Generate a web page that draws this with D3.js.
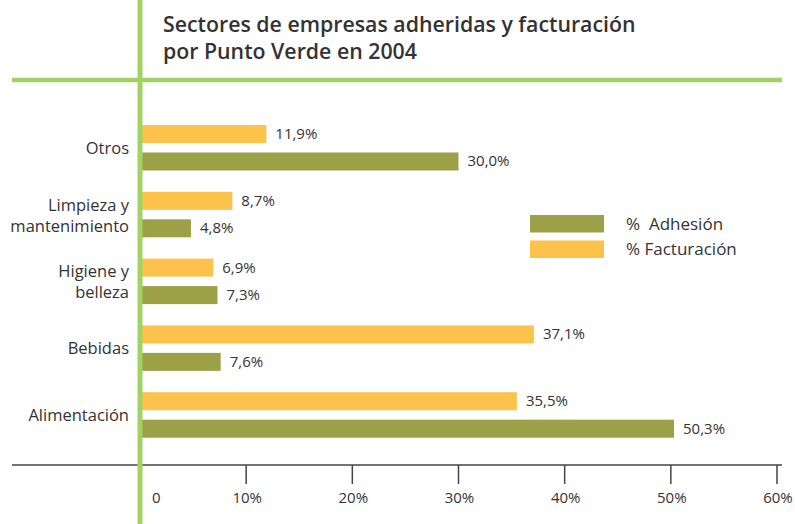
<!DOCTYPE html>
<html>
<head>
<meta charset="utf-8">
<script src="https://cdn.jsdelivr.net/npm/d3@7"></script>
<style>
    body { margin: 0; background: #fff; }
    svg text { font-family: "Open Sans", "Noto Sans", sans-serif; fill: #333; }
</style>
</head>
<body>
<svg width="795" height="524"></svg>
<script>
const categories = ['Otros', 'Limpieza y\nmantenimiento', 'Higiene y\nbelleza', 'Bebidas', 'Alimentación'];
const adhesion = [30.0, 4.8, 7.3, 7.6, 50.3];
const facturacion = [11.9, 8.7, 6.9, 37.1, 35.5];
const tickValues = [0, 10, 20, 30, 40, 50, 60];
const tickLabels = ['0', '10%', '20%', '30%', '40%', '50%', '60%'];
const seriesNames = ['% Facturación', '%  Adhesión'];

const colOrange = '#FDC24B';
const colOlive = '#9CA147';
const colGreen = '#A2D164';

const svg = d3.select('svg');
const es = d3.formatLocale({ decimal: ',', thousands: '.', grouping: [3], currency: ['', '€'] });
const fmt = v => es.format('.1f')(v) + '%';

const x = d3.scaleLinear().domain([0, 60]).range([140, 777]);
const y = d3.scaleBand().domain(categories).range([125, 125 + 5 * 66.8]).paddingInner(0).align(0);
const sub = d3.scaleBand().domain(['fact', 'adh']).range([0, 45.5]).paddingInner(0.345);

const rows = categories.map((c, i) => ({ cat: c, adh: adhesion[i], fact: facturacion[i] }));

// bars
const g = svg.append('g');
rows.forEach(r => {
    [['fact', colOrange], ['adh', colOlive]].forEach(([k, col]) => {
        const by = y(r.cat) + sub(k);
        g.append('rect')
            .attr('x', x(0)).attr('y', by)
            .attr('width', x(r[k]) - x(0)).attr('height', sub.bandwidth())
            .attr('fill', col);
        g.append('text')
            .attr('x', x(r[k]) + 9).attr('y', by + sub.bandwidth() / 2 + 5)
            .style('font-size', '15px')
            .text(fmt(r[k]));
    });
});

// category labels, one text per line
rows.forEach(r => {
    const lines = r.cat.split('\n');
    const cy = y(r.cat) + 22.75;
    lines.forEach((ln, j) => {
        const base = lines.length == 1 ? cy + 6 : cy - 4 + j * 21;
        svg.append('text')
            .attr('text-anchor', 'end')
            .attr('x', 129).attr('y', base)
            .style('font-size', '16.5px')
            .text(ln);
    });
});

// axis
const axis = svg.append('g');
axis.append('line')
    .attr('x1', 12).attr('x2', 782).attr('y1', 465).attr('y2', 465)
    .attr('stroke', '#444').attr('stroke-width', 1.5);
tickValues.forEach((v, i) => {
    if (v > 0) {
        axis.append('line')
            .attr('x1', x(v)).attr('x2', x(v)).attr('y1', 465).attr('y2', 484)
            .attr('stroke', '#444').attr('stroke-width', 1.5);
    }
    axis.append('text')
        .attr('x', v == 0 ? 152 : x(v) + 1)
        .attr('y', 503)
        .attr('text-anchor', v == 0 ? 'start' : 'middle')
        .style('font-size', '15px')
        .text(tickLabels[i]);
});

// legend
const legend = svg.append('g');
[[colOlive, seriesNames[1]], [colOrange, seriesNames[0]]].forEach(([col, name], i) => {
    legend.append('rect')
        .attr('x', 530).attr('y', 215 + i * 25.5)
        .attr('width', 74).attr('height', 17.5)
        .attr('fill', col);
    legend.append('text')
        .attr('x', 626).attr('y', 215 + i * 25.5 + 14.5)
        .style('font-size', '17px')
        .style('white-space', 'pre')
        .attr('xml:space', 'preserve')
        .text(name);
});

// green frame lines
svg.append('line')
    .attr('x1', 12).attr('x2', 782).attr('y1', 80).attr('y2', 80)
    .attr('stroke', colGreen).attr('stroke-width', 4.5);
svg.append('line')
    .attr('x1', 140).attr('x2', 140).attr('y1', 0).attr('y2', 524)
    .attr('stroke', colGreen).attr('stroke-width', 5);

// title
const title = svg.append('text')
    .style('font-size', '21.3px').style('font-weight', 600);
title.append('tspan').attr('x', 163).attr('y', 32).text('Sectores de empresas adheridas y facturación');
title.append('tspan').attr('x', 163).attr('y', 59).text('por Punto Verde en 2004');
</script>
</body>
</html>
